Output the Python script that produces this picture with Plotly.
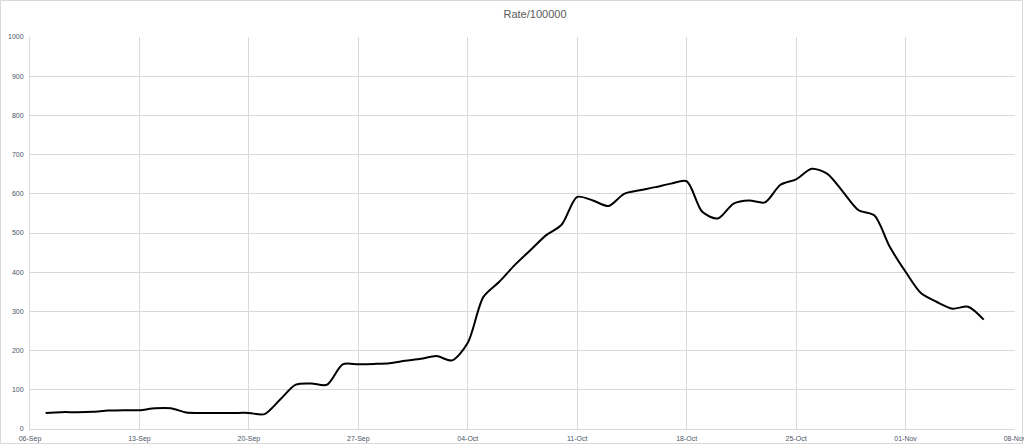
import plotly.graph_objects as go
import pandas as pd

start_date = "2020-09-07"
rate = [
    41, 43, 43, 44, 47, 48, 48, 53, 53, 42, 41, 41, 41, 41,   # 07-Sep .. 20-Sep
    38, 75, 113, 116, 113, 165, 165, 166, 168, 174, 179, 186, 175,  # 21-Sep .. 03-Oct
    220, 337, 375, 418, 456, 494, 521,                           # 04-Oct .. 10-Oct
    592, 583, 569, 600, 609, 617, 626, 632,                      # 11-Oct .. 18-Oct
    554, 537, 575, 583, 578, 623, 637,                           # 19-Oct .. 25-Oct
    664, 651, 605, 558, 545, 464,                                # 26-Oct .. 31-Oct
    401, 346, 324, 307, 312, 279,                                # 01-Nov .. 06-Nov
]
dates = pd.date_range(start_date, periods=len(rate), freq="D")

title_text = "Rate/100000"
y_ticks = [0, 100, 200, 300, 400, 500, 600, 700, 800, 900, 1000]

fig = go.Figure()
fig.add_trace(go.Scatter(
    x=dates, y=rate, mode="lines",
    line=dict(color="#000000", width=2, shape="spline", smoothing=0.8),
    showlegend=False, hoverinfo="x+y",
))

grid = "#d9d9d9"
tick_font = dict(family="Liberation Sans, Arial, sans-serif", size=7, color="#4a5568")

fig.update_layout(
    width=1024, height=445,
    margin=dict(l=30, r=9, t=37, b=16),
    paper_bgcolor="white", plot_bgcolor="white",
    title=dict(text=title_text, x=(535 - 30) / 985, xref="paper", xanchor="center",
               y=1 - 14.5 / 445, yanchor="middle",
               font=dict(family="Liberation Sans, Arial, sans-serif", size=11, color="#595959")),
    xaxis=dict(
        type="date", range=["2020-09-06", "2020-11-08"],
        tick0="2020-09-06", dtick=7 * 24 * 3600 * 1000, tickformat="%d-%b",
        showgrid=True, gridcolor=grid, gridwidth=1,
        showline=True, linecolor=grid, linewidth=1,
        ticks="", tickfont=tick_font, zeroline=False, automargin=False,
        ticklabeloverflow="allow", ticklabelstandoff=3,
    ),
    yaxis=dict(
        range=[0, 1000], tickvals=y_ticks,
        showgrid=True, gridcolor=grid, gridwidth=1,
        showline=True, linecolor=grid, linewidth=1,
        ticks="", tickfont=tick_font, zeroline=False, ticklabelstandoff=4,
        automargin=False, ticklabeloverflow="allow",
    ),
    shapes=[dict(type="rect", xref="paper", yref="paper",
                 x0=(0.5 - 30) / 985, x1=(1022.5 - 30) / 985,
                 y0=(429 - 443.5) / 392, y1=(429 - 0.5) / 392,
                 line=dict(color=grid, width=1), fillcolor="rgba(0,0,0,0)", layer="below")],
)

fig.write_html("out.html", config={"displayModeBar": False},
               post_script="document.body.style.margin='0';")
